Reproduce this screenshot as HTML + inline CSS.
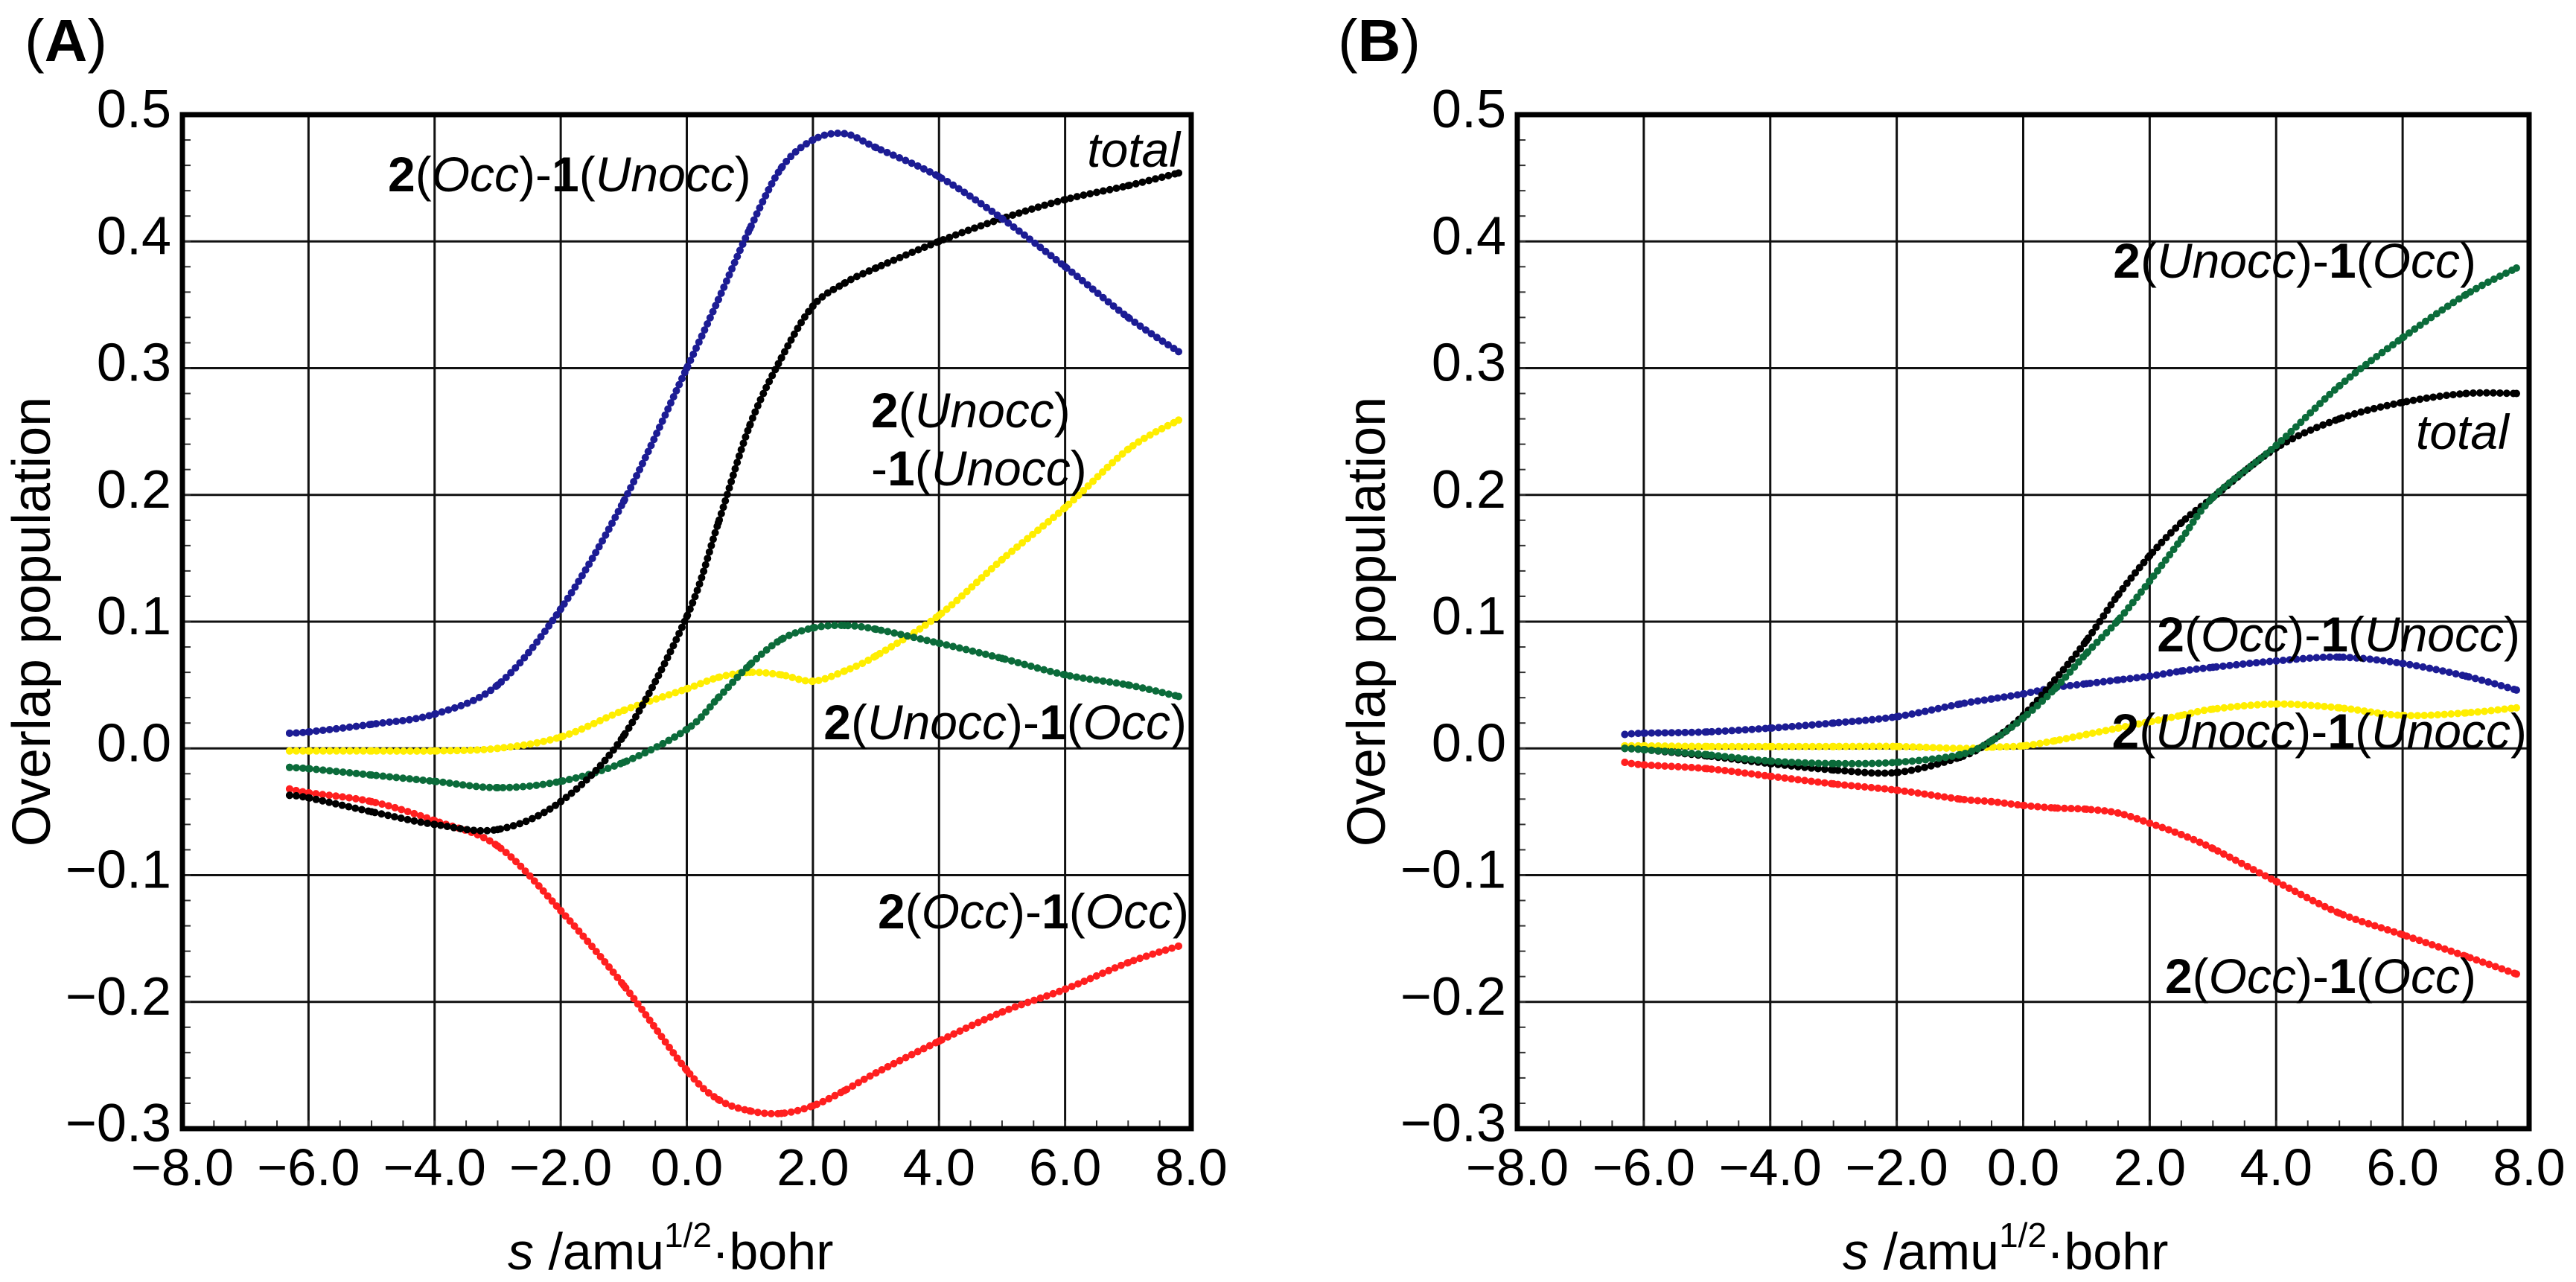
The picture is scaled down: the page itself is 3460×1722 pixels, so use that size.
<!DOCTYPE html>
<html><head><meta charset="utf-8"><title>Overlap population</title>
<style>
html,body{margin:0;padding:0;background:#fff;}
svg{display:block;font-family:"Liberation Sans",Arial,sans-serif;}
</style></head>
<body>
<svg id="fig" width="3460" height="1722" viewBox="0 0 3460 1722" xmlns="http://www.w3.org/2000/svg">
<rect width="3460" height="1722" fill="#fff"/>
<g id="panelA"></g>
<g id="panelB"></g>
</svg>
<script>
// ---- shared axis data ----
const xTicks = [-8, -6, -4, -2, 0, 2, 4, 6, 8];
const xTickLabels = ["\u22128.0","\u22126.0","\u22124.0","\u22122.0","0.0","2.0","4.0","6.0","8.0"];
const yTicks = [0.5, 0.4, 0.3, 0.2, 0.1, 0.0, -0.1, -0.2, -0.3];
const yTickLabels = ["0.5","0.4","0.3","0.2","0.1","0.0","\u22120.1","\u22120.2","\u22120.3"];

// ---- Panel A data ----
const aS = [-6.3,-6,-5,-4,-3,-2,-1,0,0.5,1,1.5,2,2.5,3,4,5,6,7,7.8];
const aOccUnocc  = [0.012,0.013,0.019,0.027,0.05,0.11,0.195,0.30,0.354,0.41,0.458,0.48,0.485,0.474,0.451,0.418,0.38,0.34,0.313];
const aTotal     = [-0.037,-0.039,-0.05,-0.06,-0.064,-0.042,0.01,0.104,0.178,0.255,0.308,0.349,0.367,0.379,0.40,0.418,0.433,0.444,0.454];
const aUnoccUnocc= [-0.002,-0.002,-0.002,-0.002,0.0,0.009,0.03,0.047,0.056,0.06,0.058,0.053,0.061,0.073,0.105,0.149,0.19,0.236,0.259];
const aUnoccOcc  = [-0.015,-0.016,-0.021,-0.026,-0.031,-0.026,-0.011,0.015,0.04,0.066,0.086,0.095,0.097,0.094,0.083,0.071,0.058,0.05,0.041];
const aOccOcc    = [-0.032,-0.035,-0.042,-0.057,-0.077,-0.128,-0.187,-0.254,-0.277,-0.286,-0.288,-0.282,-0.27,-0.256,-0.231,-0.208,-0.19,-0.169,-0.156];

// ---- Panel B data ----
const bS = [-6.3,-6,-5,-4,-3,-2,-1,-0.5,0,0.5,1,1.5,2,2.5,3,4,5,6,7,7.8];
const bOccUnocc  = [0.011,0.012,0.013,0.016,0.02,0.025,0.035,0.039,0.043,0.048,0.051,0.054,0.057,0.061,0.064,0.069,0.072,0.067,0.057,0.046];
const bTotal     = [0.0,-0.001,-0.006,-0.012,-0.017,-0.019,-0.007,0.006,0.026,0.054,0.085,0.121,0.152,0.178,0.198,0.237,0.26,0.273,0.28,0.28];
const bUnoccOcc  = [0.0,-0.001,-0.005,-0.01,-0.012,-0.011,-0.005,0.006,0.024,0.047,0.075,0.101,0.132,0.165,0.198,0.239,0.286,0.324,0.358,0.379];
const bUnoccUnocc= [0.002,0.002,0.0015,0.0015,0.0015,0.0015,0.0,0.001,0.002,0.006,0.011,0.016,0.021,0.026,0.031,0.035,0.032,0.026,0.028,0.032];
const bOccOcc    = [-0.011,-0.013,-0.016,-0.022,-0.028,-0.033,-0.04,-0.042,-0.045,-0.047,-0.048,-0.051,-0.059,-0.068,-0.079,-0.105,-0.13,-0.147,-0.164,-0.178];

const NS = "http://www.w3.org/2000/svg";
function mk(parent, tag, attrs) {
  const e = document.createElementNS(NS, tag);
  for (const k in attrs) e.setAttribute(k, attrs[k]);
  parent.appendChild(e);
  return e;
}

function makePanel(g, L, R, T, B) {
  const sx = v => L + (v + 8) / 16 * (R - L);
  const sy = v => T + (0.5 - v) / 0.8 * (B - T);
  xTicks.forEach(v => {
    if (v === -8 || v === 8) return;
    const l = mk(g, 'line', {x1: sx(v), x2: sx(v), y1: T, y2: B, stroke: '#111', 'stroke-width': 3});
    
    
  });
  yTicks.forEach(v => {
    if (v === 0.5 || v === -0.3) return;
    const l = mk(g, 'line', {x1: L, x2: R, y1: sy(v), y2: sy(v), stroke: '#111', 'stroke-width': 3});
    
    
  });
  for (let v = -8; v <= 8.001; v += 0.5) {
    const t = mk(g, 'line', {x1: sx(v), x2: sx(v), y1: B, y2: B - 11, stroke: '#333', 'stroke-width': 2});
    
    
  }
  for (let v = -0.3; v <= 0.5001; v += 0.02) {
    const t = mk(g, 'line', {x1: L, x2: L + 11, y1: sy(v), y2: sy(v), stroke: '#333', 'stroke-width': 2});
    
    
  }
  xTicks.forEach((v, i) => {
    const t = mk(g, 'text', {x: sx(v), y: B + 76, 'font-size': 70, 'text-anchor': 'middle', fill: '#000'});
    t.textContent = xTickLabels[i];
    
    
  });
  yTicks.forEach((v, i) => {
    const t = mk(g, 'text', {x: L - 15, y: sy(v) + 17, 'font-size': 72, 'text-anchor': 'end', fill: '#000'});
    t.textContent = yTickLabels[i];
    
    
  });
  return {sx, sy, L, R, T, B};
}

function smoothPath(pts) {
  let d = 'M' + pts[0][0] + ',' + pts[0][1];
  for (let i = 0; i < pts.length - 1; i++) {
    const p0 = pts[Math.max(0, i - 1)], p1 = pts[i], p2 = pts[i + 1], p3 = pts[Math.min(pts.length - 1, i + 2)];
    const c1x = p1[0] + (p2[0] - p0[0]) / 6, c1y = p1[1] + (p2[1] - p0[1]) / 6;
    const c2x = p2[0] - (p3[0] - p1[0]) / 6, c2y = p2[1] - (p3[1] - p1[1]) / 6;
    d += ' C' + c1x + ',' + c1y + ' ' + c2x + ',' + c2y + ' ' + p2[0] + ',' + p2[1];
  }
  return d;
}

function drawSeries(g, ax, xs, ys, lineColor, dotColor, name) {
  const sg = mk(g, 'g', {});
  
  
  const pts = xs.map((x, i) => [ax.sx(x), ax.sy(ys[i])]);
  const p = mk(sg, 'path', {d: smoothPath(pts), fill: 'none', stroke: lineColor, 'stroke-width': 4});
  
  
  const len = p.getTotalLength();
  const step = 9;
  for (let s = 0; s <= len; s += step) {
    const q = p.getPointAtLength(s);
    const c = mk(sg, 'circle', {cx: q.x, cy: q.y, r: 5, fill: dotColor});
    
    
  }
  pts.forEach(pt => {
    const c = mk(sg, 'circle', {cx: pt[0], cy: pt[1], r: 5, fill: dotColor});
    
    
  });
}

function frame(g, ax) {
  const r = mk(g, 'rect', {x: ax.L, y: ax.T, width: ax.R - ax.L, height: ax.B - ax.T, fill: 'none', stroke: '#000', 'stroke-width': 7});
  
  
}

function label(g, x, y, parts, anchor, name) {
  const t = mk(g, 'text', {x: x, y: y, 'font-size': 66, fill: '#000', 'text-anchor': anchor || 'start'});
  
  
  parts.forEach(p => {
    const s = mk(t, 'tspan', {});
    if (p[1] === 'b') s.setAttribute('font-weight', 'bold');
    if (p[1] === 'i') s.setAttribute('font-style', 'italic');
    s.textContent = p[0];
  });
  return t;
}

function axisTitles(g, L, T, B, tx) {
  const yt = mk(g, 'text', {x: 0, y: 0, 'font-size': 72, 'text-anchor': 'middle', fill: '#000',
    transform: 'translate(' + (L - 178) + ',' + ((T + B) / 2) + ') rotate(-90)'});
  yt.textContent = 'Overlap population';
  
  
  const xt = mk(g, 'text', {x: tx, y: 1705, 'font-size': 70, fill: '#000'});
  
  
  const a = mk(xt, 'tspan', {'font-style': 'italic'}); a.textContent = 's';
  const b = mk(xt, 'tspan', {}); b.textContent = ' /amu';
  const c = mk(xt, 'tspan', {'font-size': 46, dy: -30}); c.textContent = '1/2';
  const d = mk(xt, 'tspan', {dy: 30}); d.textContent = '\u00B7bohr';
}

function panelLetter(g, x, letter) {
  const t = mk(g, 'text', {x: x, y: 82, 'font-size': 80, fill: '#000'});
  
  
  const a = mk(t, 'tspan', {}); a.textContent = '(';
  const b = mk(t, 'tspan', {'font-weight': 'bold'}); b.textContent = letter;
  const c = mk(t, 'tspan', {}); c.textContent = ')';
}

const NAVY = '#1c1c94', GREEN = '#0b6b3a', YEL = '#ffee00', RED = '#ff1f1f', BLK = '#000';

// Panel A
const gA = document.getElementById('panelA');
const axA = makePanel(gA, 245, 1600, 154, 1516);
drawSeries(gA, axA, aS, aUnoccUnocc, YEL, YEL, 'series-a-2unocc-1unocc');
drawSeries(gA, axA, aS, aUnoccOcc, GREEN, GREEN, 'series-a-2unocc-1occ');
drawSeries(gA, axA, aS, aOccOcc, NAVY, RED, 'series-a-2occ-1occ');
drawSeries(gA, axA, aS, aTotal, BLK, BLK, 'series-a-total');
drawSeries(gA, axA, aS, aOccUnocc, NAVY, NAVY, 'series-a-2occ-1unocc');
frame(gA, axA);
label(gA, 521, 257, [['2','b'],['(',''],['Occ','i'],[')-',''],['1','b'],['(',''],['Unocc','i'],[')','']], 'start', 'label-a-2occ-1unocc');
label(gA, 1585, 224, [['total','i']], 'end', 'label-a-total');
label(gA, 1170, 574, [['2','b'],['(',''],['Unocc','i'],[')','']], 'start', 'label-a-2unocc');
label(gA, 1170, 652, [['-',''],['1','b'],['(',''],['Unocc','i'],[')','']], 'start', 'label-a-1unocc');
label(gA, 1594, 993, [['2','b'],['(',''],['Unocc','i'],[')-',''],['1','b'],['(',''],['Occ','i'],[')','']], 'end', 'label-a-2unocc-1occ');
label(gA, 1597, 1247, [['2','b'],['(',''],['Occ','i'],[')-',''],['1','b'],['(',''],['Occ','i'],[')','']], 'end', 'label-a-2occ-1occ');
axisTitles(gA, 245, 154, 1516, 682);
panelLetter(gA, 33, 'A');

// Panel B
const gB = document.getElementById('panelB');
const axB = makePanel(gB, 2038, 3397, 154, 1516);
drawSeries(gB, axB, bS, bOccOcc, RED, RED, 'series-b-2occ-1occ');
drawSeries(gB, axB, bS, bUnoccUnocc, YEL, YEL, 'series-b-2unocc-1unocc');
drawSeries(gB, axB, bS, bOccUnocc, NAVY, NAVY, 'series-b-2occ-1unocc');
drawSeries(gB, axB, bS, bTotal, BLK, BLK, 'series-b-total');
drawSeries(gB, axB, bS, bUnoccOcc, GREEN, GREEN, 'series-b-2unocc-1occ');
frame(gB, axB);
label(gB, 3326, 373, [['2','b'],['(',''],['Unocc','i'],[')-',''],['1','b'],['(',''],['Occ','i'],[')','']], 'end', 'label-b-2unocc-1occ');
label(gB, 3245, 603, [['total','i']], 'start', 'label-b-total');
label(gB, 3385, 875, [['2','b'],['(',''],['Occ','i'],[')-',''],['1','b'],['(',''],['Unocc','i'],[')','']], 'end', 'label-b-2occ-1unocc');
label(gB, 3394, 1005, [['2','b'],['(',''],['Unocc','i'],[')-',''],['1','b'],['(',''],['Unocc','i'],[')','']], 'end', 'label-b-2unocc-1unocc');
label(gB, 3326, 1334, [['2','b'],['(',''],['Occ','i'],[')-',''],['1','b'],['(',''],['Occ','i'],[')','']], 'end', 'label-b-2occ-1occ');
axisTitles(gB, 2038, 154, 1516, 2475);
panelLetter(gB, 1797, 'B');
</script>
</body></html>
